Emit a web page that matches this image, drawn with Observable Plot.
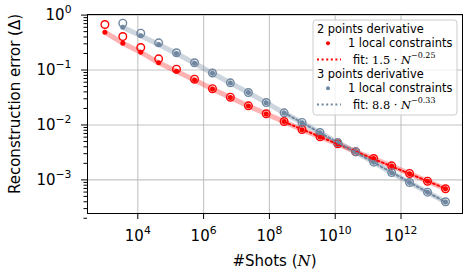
<!DOCTYPE html>
<html>
<head>
<meta charset="utf-8">
<script src="https://cdn.jsdelivr.net/npm/d3@7"></script>
<script src="https://cdn.jsdelivr.net/npm/@observablehq/plot@0.6"></script>
<style>
  html, body { margin: 0; padding: 0; background: white; }
  #chart svg { display: block; }
</style>
</head>
<body>
<div id="chart"></div>
<script>
// ---- data ----
const shots = [1.0e3, 3.5e3, 1.23e4, 4.3e4, 1.5e5, 5.3e5, 1.86e6, 6.5e6, 2.3e7, 8.0e7,
               2.8e8, 9.8e8, 3.45e9, 1.2e10, 4.2e10, 1.48e11, 5.2e11, 1.82e12, 6.4e12, 2.25e13];

// 2 points derivative
const red2All   = [0.674, 0.407, 0.257, 0.160, 0.1035, 0.0681, 0.0457, 0.0320, 0.0223, 0.0160,
                   0.01156, 0.00826, 0.00608, 0.00454, 0.00325, 0.00245, 0.00180, 0.00131, 0.000946, 0.000689];
const red2Local = [0.489, 0.308, 0.211, 0.1355, 0.0952, 0.066, 0.0452, 0.0317, 0.0221, 0.0159,
                   0.0115, 0.0082, 0.00605, 0.00452, 0.00324, 0.00244, 0.00179, 0.00130, 0.000942, 0.000686];

// 3 points derivative
const grey3All   = [null, 0.712, 0.468, 0.313, 0.206, 0.1355, 0.0883, 0.0585, 0.0390, 0.0256,
                    0.0166, 0.0111, 0.00729, 0.00480, 0.00325, 0.00210, 0.00136, 0.000897, 0.000597, 0.000399];
const grey3Local = [null, 0.602, 0.420, 0.292, 0.200, 0.133, 0.0875, 0.058, 0.0388, 0.0255,
                    0.0165, 0.0110, 0.00725, 0.00478, 0.00324, 0.00209, 0.00135, 0.000893, 0.000594, 0.000397];

const fitStartIndex = 10;

// axis ticks
const xMajor = [1e4, 1e6, 1e8, 1e10, 1e12];
const yMajor = [1, 1e-1, 1e-2, 1e-3];
const yMinor = [];
for (const e of [-4, -3, -2, -1]) for (let m = 2; m <= 9; m++) yMinor.push(m * 10 ** e);

// legend texts
const legendTitles = ["2 points derivative", "3 points derivative"];
const legendLocal = "1 local constraints";
const fitCoef = ["1.5", "8.8"];
const fitExp = ["\u22120.25", "\u22120.33"];

// ---- build tables ----
const RED = "#ff0000";
const GREY = "#6f87a0";
const toRows = (ys) => shots.map((s, i) => ({shots: s, v: ys[i]})).filter(d => d.v != null);

function fitRows(ys) {
  const pts = toRows(ys).slice(-(shots.length - fitStartIndex));
  const lx = pts.map(d => Math.log10(d.shots)), ly = pts.map(d => Math.log10(d.v));
  const mx = d3.mean(lx), my = d3.mean(ly);
  const b = d3.sum(lx.map((x, i) => (x - mx) * (ly[i] - my))) / d3.sum(lx.map(x => (x - mx) ** 2));
  const a = my - b * mx;
  return pts.map(d => ({shots: d.shots, v: 10 ** (a + b * Math.log10(d.shots))}));
}

const supFmt = d => "10^" + String(Math.round(Math.log10(d))).replace("-", "\u2212");

const chart = Plot.plot({
  width: 469,
  height: 280,
  marginLeft: 87,
  marginRight: 7,
  marginTop: 14,
  marginBottom: 67,
  style: {fontFamily: "DejaVu Sans", fontSize: "15px", background: "white", color: "black", overflow: "visible"},
  x: {type: "log", domain: [10 ** 2.471, 10 ** 13.869]},
  y: {type: "log", domain: [10 ** -3.612, 10 ** 0.011]},
  marks: [
    Plot.gridX(xMajor, {stroke: "#b0b0b0", strokeOpacity: 0.75, strokeWidth: 1.1}),
    Plot.gridY(yMajor, {stroke: "#b0b0b0", strokeOpacity: 0.75, strokeWidth: 1.1}),
    Plot.axisX({ticks: xMajor, tickSize: 6, tickPadding: 11, tickFormat: supFmt, label: null, fontSize: 15}),
    Plot.axisY({ticks: yMajor, tickSize: 6, tickPadding: 10, tickFormat: supFmt, label: null, fontSize: 15}),
    Plot.axisY({ticks: yMinor, tickSize: 3.5, tickFormat: () => "", label: null}),
    // translucent bands through the local-constraint data
    Plot.line(toRows(red2Local), {x: "shots", y: "v", stroke: RED, strokeOpacity: 0.3, strokeWidth: 5}),
    Plot.line(toRows(grey3Local), {x: "shots", y: "v", stroke: GREY, strokeOpacity: 0.35, strokeWidth: 5}),
    // open circles
    Plot.dot(toRows(red2All), {x: "shots", y: "v", r: 3.8, stroke: RED, strokeWidth: 1.4, fill: "none"}),
    Plot.dot(toRows(grey3All), {x: "shots", y: "v", r: 3.8, stroke: GREY, strokeWidth: 1.4, fill: "none"}),
    // local-constraint dots
    Plot.dot(toRows(red2Local), {x: "shots", y: "v", r: 2.5, fill: RED}),
    Plot.dot(toRows(grey3Local), {x: "shots", y: "v", r: 2.5, fill: GREY}),
    // fits
    Plot.line(fitRows(red2Local), {x: "shots", y: "v", stroke: RED, strokeWidth: 2, strokeDasharray: "2,2.6"}),
    Plot.line(fitRows(grey3Local), {x: "shots", y: "v", stroke: GREY, strokeWidth: 2, strokeDasharray: "2,2.6"}),
    Plot.frame({stroke: "black", strokeWidth: 1})
  ]
});

document.getElementById("chart").appendChild(chart);
const svg = d3.select(chart);

// superscript tick labels
svg.selectAll('g[aria-label="x-axis tick label"] text, g[aria-label="y-axis tick label"] text').each(function() {
  const t = this.textContent;
  if (!t.includes("^")) return;
  const [base, exp] = t.split("^");
  const sel = d3.select(this);
  sel.text(base);
  sel.append("tspan").attr("dy", "-0.62em").attr("font-size", "0.72em").text(exp);
});

// axis labels
const yl = svg.append("text")
  .attr("transform", "translate(20,104) rotate(-90)")
  .attr("text-anchor", "middle")
  .attr("font-family", "DejaVu Sans").attr("font-size", 15).attr("fill", "black");
yl.append("tspan").text("Reconstruction error (\u0394)");

const xl = svg.append("text")
  .attr("x", 274.5).attr("y", 266)
  .attr("text-anchor", "middle")
  .attr("font-family", "DejaVu Sans").attr("font-size", 15).attr("fill", "black");
xl.append("tspan").text("#Shots (");
xl.append("tspan").attr("font-family", "DejaVu Serif").attr("font-style", "italic").text("N");
xl.append("tspan").text(")");

// legend
const lg = svg.append("g").attr("font-family", "DejaVu Sans").attr("font-size", 11.4)
  .attr("fill", "black").attr("text-anchor", "start");
lg.append("rect").attr("x", 313).attr("y", 20).attr("width", 144).attr("height", 95).attr("rx", 3)
  .attr("fill", "white").attr("fill-opacity", 0.8).attr("stroke", "#cccccc").attr("stroke-width", 1);
const colors = [RED, GREY];
[0, 1].forEach(k => {
  const y0 = 33 + k * 45;
  lg.append("text").attr("x", 317).attr("y", y0).text(legendTitles[k]);
  lg.append("circle").attr("cx", 328).attr("cy", y0 + 10.3).attr("r", 2).attr("fill", colors[k]);
  lg.append("text").attr("x", 348).attr("y", y0 + 14.3).text(legendLocal);
  lg.append("line").attr("x1", 317).attr("x2", 341).attr("y1", y0 + 26.5).attr("y2", y0 + 26.5)
    .attr("stroke", colors[k]).attr("stroke-width", 2).attr("stroke-dasharray", "2,2.6");
  const ft = lg.append("text").attr("x", 353).attr("y", y0 + 30.5);
  ft.append("tspan").text("fit: ");
  ft.append("tspan").attr("font-family", "DejaVu Serif").text(fitCoef[k] + " \u00b7 ");
  ft.append("tspan").attr("font-family", "DejaVu Serif").attr("font-style", "italic").text("N");
  ft.append("tspan").attr("font-family", "DejaVu Serif").attr("dy", "-0.75em").attr("font-size", "0.7em").text(fitExp[k]);
});
</script>
</body>
</html>
